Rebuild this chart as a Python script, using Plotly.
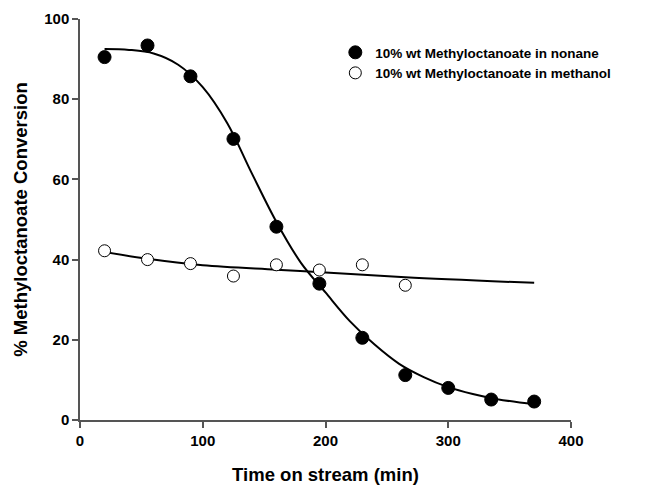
import plotly.graph_objects as go

# measured data
time_nonane = [20, 55, 90, 125, 160, 195, 230, 265, 300, 335, 370]
conv_nonane = [90.5, 93.4, 85.7, 70.1, 48.2, 34.0, 20.5, 11.2, 8.0, 5.1, 4.6]

time_methanol = [20, 55, 90, 125, 160, 195, 230, 265]
conv_methanol = [42.2, 40.0, 39.0, 35.9, 38.7, 37.4, 38.7, 33.6]

# fitted curves
fit_nonane_x = [20, 40, 60, 80, 100, 120, 140, 160, 180, 200, 220, 240, 260, 280, 300, 320, 340, 370]
fit_nonane_y = [92.5, 92.3, 91.4, 88.6, 83.0, 74.0, 61.5, 49.4, 39.2, 31.8, 24.6, 18.8, 14.0, 10.7, 8.2, 6.5, 5.2, 3.9]

fit_methanol_x = [20, 55, 100, 160, 200, 265, 370]
fit_methanol_y = [41.9, 40.2, 38.6, 37.5, 36.8, 35.6, 34.2]

x_ticks = [0, 100, 200, 300, 400]
y_ticks = [0, 20, 40, 60, 80, 100]

FONT = "Liberation Sans, Arial, sans-serif"

fig = go.Figure()
fig.add_trace(go.Scatter(x=fit_nonane_x, y=fit_nonane_y, mode="lines",
                         line=dict(color="black", width=2, shape="spline"),
                         showlegend=False, hoverinfo="skip"))
fig.add_trace(go.Scatter(x=fit_methanol_x, y=fit_methanol_y, mode="lines",
                         line=dict(color="black", width=2, shape="spline"),
                         showlegend=False, hoverinfo="skip"))
fig.add_trace(go.Scatter(x=time_nonane, y=conv_nonane, mode="markers",
                         name="10% wt Methyloctanoate in nonane",
                         marker=dict(symbol="circle", size=13, color="black",
                                     line=dict(color="black", width=1))))
fig.add_trace(go.Scatter(x=time_methanol, y=conv_methanol, mode="markers",
                         name="10% wt Methyloctanoate in methanol",
                         marker=dict(symbol="circle", size=12, color="white",
                                     line=dict(color="black", width=1))))

axis_common = dict(showline=True, linecolor="#555555", linewidth=1.5,
                   ticks="outside", ticklen=6, tickcolor="#555555", tickwidth=1.5,
                   showgrid=False, zeroline=False, automargin=False,
                   tickfont=dict(family=FONT, size=15, color="black", weight="bold"))

fig.update_xaxes(range=[0, 400], tickvals=x_ticks,
                 title=dict(text="Time on stream (min)",
                            font=dict(family=FONT, size=18.5, color="black", weight="bold"),
                            standoff=20),
                 **axis_common)
fig.update_yaxes(range=[0, 100], tickvals=y_ticks,
                 title=dict(text="% Methyloctanoate Conversion",
                            font=dict(family=FONT, size=18.5, color="black", weight="bold"),
                            standoff=12),
                 **axis_common)

fig.update_layout(
    width=669, height=487,
    margin=dict(l=80, r=98, t=19, b=67),
    paper_bgcolor="white", plot_bgcolor="white",
    font=dict(family=FONT, color="black"),
    legend=dict(x=0.52, y=0.955, xanchor="left", yanchor="top",
                bgcolor="rgba(0,0,0,0)",
                font=dict(family=FONT, size=13.5, color="black", weight="bold")),
)

fig.write_html("out.html")
